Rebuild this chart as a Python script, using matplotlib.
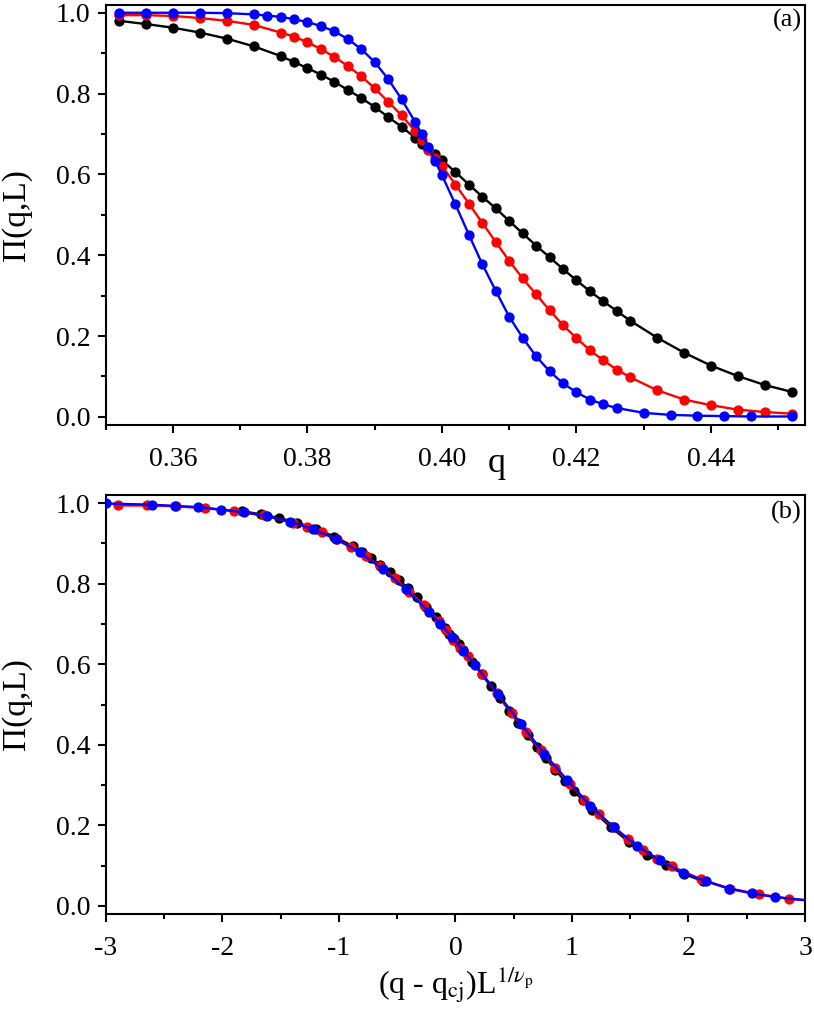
"""
Pi(q,L) curves and their scaling collapse
"""

import numpy as np
import matplotlib
matplotlib.use("Agg")
import matplotlib.pyplot as plt
from matplotlib.ticker import MultipleLocator

# ---- data ----
q_small = [0.352, 0.356, 0.360, 0.364, 0.368, 0.372, 0.376, 0.378, 0.380, 0.382,
           0.384, 0.386, 0.388, 0.390, 0.392, 0.394, 0.396, 0.397, 0.398, 0.399,
           0.400, 0.402, 0.404, 0.406, 0.408, 0.410, 0.412, 0.414, 0.416, 0.418,
           0.420, 0.422, 0.424, 0.426, 0.428, 0.432, 0.436, 0.440, 0.444, 0.448,
           0.452]
pi_black = [0.980, 0.972, 0.963, 0.951, 0.936, 0.917, 0.893, 0.878, 0.863, 0.847,
            0.829, 0.809, 0.789, 0.767, 0.742, 0.718, 0.691, 0.675, 0.662, 0.650,
            0.635, 0.606, 0.575, 0.545, 0.516, 0.485, 0.454, 0.424, 0.395, 0.366,
            0.338, 0.311, 0.286, 0.262, 0.238, 0.196, 0.159, 0.127, 0.101, 0.079,
            0.062]
pi_red = [0.994, 0.994, 0.992, 0.987, 0.980, 0.970, 0.951, 0.941, 0.927, 0.910,
          0.891, 0.868, 0.843, 0.813, 0.780, 0.746, 0.708, 0.684, 0.661, 0.640,
          0.621, 0.575, 0.528, 0.480, 0.433, 0.386, 0.343, 0.303, 0.264, 0.227,
          0.195, 0.165, 0.140, 0.117, 0.098, 0.066, 0.043, 0.029, 0.018, 0.012,
          0.008]

q_blue = [0.352, 0.356, 0.360, 0.364, 0.368, 0.372, 0.374, 0.376, 0.378, 0.380,
          0.382, 0.384, 0.386, 0.388, 0.390, 0.392, 0.394, 0.396, 0.397, 0.398,
          0.399, 0.400, 0.402, 0.404, 0.406, 0.408, 0.410, 0.412, 0.414, 0.416,
          0.418, 0.420, 0.422, 0.424, 0.426, 0.430, 0.434, 0.438, 0.442, 0.446,
          0.452]
pi_blue = [1.000, 1.000, 1.000, 1.000, 0.999, 0.996, 0.993, 0.990, 0.984, 0.977,
           0.967, 0.954, 0.935, 0.910, 0.878, 0.836, 0.786, 0.730, 0.700, 0.667,
           0.633, 0.598, 0.526, 0.451, 0.378, 0.312, 0.248, 0.196, 0.150, 0.113,
           0.083, 0.061, 0.043, 0.031, 0.022, 0.010, 0.005, 0.003, 0.002, 0.001,
           0.001]

# scaling parameters for panel (b)
L_sizes = [256, 512, 1024]
q_cj = 0.3983
inv_nu_p = 0.663

series = [
    (q_small, pi_black, 'black', L_sizes[0]),
    (q_small, pi_red, 'red', L_sizes[1]),
    (q_blue, pi_blue, 'blue', L_sizes[2]),
]

plt.rcParams['font.family'] = ['Liberation Serif', 'DejaVu Serif']
plt.rcParams['mathtext.fontset'] = 'stix'
plt.rcParams['axes.linewidth'] = 1.5

fig = plt.figure(figsize=(8.14, 10.15), dpi=100)
ax1 = fig.add_axes([0.1299, 0.5813, 0.8591, 0.4141])
ax2 = fig.add_axes([0.1299, 0.0995, 0.8591, 0.4128])


def style_axes(ax):
    ax.tick_params(which='both', direction='out', top=False, right=False,
                   width=1.5, labelsize=20)
    ax.tick_params(which='major', length=6)
    ax.tick_params(which='minor', length=3.5)
    ax.tick_params(axis='x', pad=10)
    ax.tick_params(axis='y', pad=5)
    ax.set_ylim(-0.02, 1.02)
    ax.yaxis.set_major_locator(MultipleLocator(0.2))
    ax.yaxis.set_minor_locator(MultipleLocator(0.1))
    ax.yaxis.set_major_formatter(plt.FuncFormatter(lambda v, p: f'{v:.1f}'))
    ax.set_ylabel('Π(q,L)', fontsize=24)
    ax.yaxis.set_label_coords(-0.106, 0.5)


# (a) raw curves
for z, (q, pi, c, L) in enumerate(series):
    ax1.plot(q, pi, '-o', color=c, lw=1.7, ms=6.4, zorder=3 + z)
style_axes(ax1)
ax1.set_xlim(0.35, 0.454)
ax1.xaxis.set_major_locator(MultipleLocator(0.02))
ax1.xaxis.set_minor_locator(MultipleLocator(0.01))
ax1.xaxis.set_major_formatter(plt.FuncFormatter(lambda v, p: f'{v:.2f}'))
ax1.set_xlabel('q', fontsize=26)
ax1.xaxis.label.set_va('baseline')
ax1.xaxis.set_label_coords(0.5596, -0.112)
ax1.text(0.995, 0.99, '(a)', transform=ax1.transAxes, ha='right', va='top',
         fontsize=19)

# (b) scaling collapse
for z, (q, pi, c, L) in enumerate(series):
    x = (np.array(q) - q_cj) * L ** inv_nu_p
    ax2.plot(x, pi, '-o', color=c, lw=1.7, ms=6.4, zorder=3 + z)
style_axes(ax2)
ax2.set_xlim(-3, 3)
ax2.xaxis.set_major_locator(MultipleLocator(1))
ax2.xaxis.set_minor_locator(MultipleLocator(0.5))
ax2.xaxis.set_major_formatter(plt.FuncFormatter(lambda v, p: f'{v:.0f}'))
ax2.set_xlabel(r'(q - q$_{\mathrm{cj}}$)L$^{1/\nu_{\mathrm{p}}}$', fontsize=23)
ax2.xaxis.label.set_va('baseline')
ax2.xaxis.set_label_coords(0.5, -0.19)
ax2.text(0.995, 0.985, '(b)', transform=ax2.transAxes, ha='right', va='top',
         fontsize=19)

fig.savefig('out.png', dpi=100)
